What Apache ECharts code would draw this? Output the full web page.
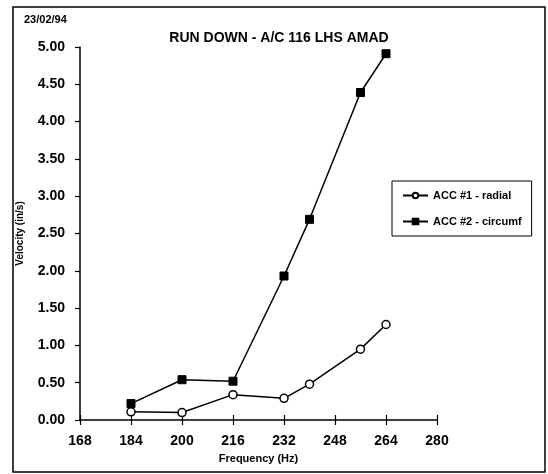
<!DOCTYPE html>
<html lang="en">
<head>
    <meta http-equiv="content-type" content="text/html; charset=utf-8" />
    <script type="text/javascript" src="https://cdn.jsdelivr.net/npm/echarts@6/dist/echarts.min.js"></script>
    <title>RUN DOWN - A/C 116 LHS AMAD</title>
    <style>
        html, body { margin: 0; padding: 0; background: #fff; }
        #chart { width: 548px; height: 474px; }
    </style>
</head>
<body>
<div id="chart"></div>
<script type="text/javascript">
    // 数据
    var freq = [184, 200, 216, 232, 240, 256, 264];
    var radial = [0.11, 0.10, 0.34, 0.29, 0.48, 0.95, 1.28];
    var circumf = [0.22, 0.54, 0.52, 1.93, 2.69, 4.39, 4.91];
    var seriesNames = ['ACC #1 - radial', 'ACC #2 - circumf'];

    function pairs(xs, ys) {
        var out = [];
        for (var i = 0; i < xs.length; i++) {
            out.push([xs[i], ys[i]]);
        }
        return out;
    }

    var font = '"Liberation Sans", Arial, Helvetica, sans-serif';
    var chart = echarts.init(document.getElementById('chart'));
    chart.setOption({
        animation: false,
        backgroundColor: '#fff',
        textStyle: { fontFamily: font, color: '#000' },
        title: {
            text: 'RUN DOWN - A/C 116 LHS AMAD',
            left: 274, top: 26, textAlign: 'center',
            textStyle: { fontFamily: font, fontSize: 14, fontWeight: 'bold', color: '#000' }
        },
        graphic: [
            { type: 'rect', shape: { x: 13, y: 7, width: 532, height: 465 },
              style: { fill: 'none', stroke: '#000', lineWidth: 1.5 } },
            { type: 'text', left: 24, top: 14,
              style: { text: '23/02/94', fill: '#000', font: 'bold 11px ' + font } }
        ],
        legend: {
            left: 392, top: 181,
            orient: 'vertical',
            backgroundColor: '#fff',
            borderColor: '#000', borderWidth: 1,
            padding: [9, 10, 9, 10],
            itemWidth: 25, itemHeight: 7, itemGap: 15,
            textStyle: { fontFamily: font, fontSize: 11, fontWeight: 'bold', color: '#000' },
            data: seriesNames
        },
        grid: { left: 80, right: 111, top: 47, bottom: 54 },
        xAxis: [{
            type: 'value', min: 168, max: 280, interval: 16,
            name: 'Frequency (Hz)', nameLocation: 'middle', nameGap: 33,
            nameTextStyle: { fontFamily: font, fontSize: 11, fontWeight: 'bold', color: '#000' },
            axisLine: { lineStyle: { color: '#000', width: 1.5 } },
            axisTick: { length: 5, lineStyle: { color: '#000', width: 1.2 } },
            axisLabel: { margin: 14, fontFamily: font, fontSize: 14, fontWeight: 'bold', color: '#000' },
            splitLine: { show: false }
        }, {
            type: 'value', min: 168, max: 280, interval: 16, position: 'bottom',
            axisLine: { show: false },
            axisTick: { inside: true, length: 5, lineStyle: { color: '#000', width: 1.2 } },
            axisLabel: { show: false },
            splitLine: { show: false }
        }],
        yAxis: {
            type: 'value', min: 0, max: 5, interval: 0.5,
            name: 'Velocity (in/s)', nameLocation: 'middle', nameGap: 55, nameRotate: 90,
            nameTextStyle: { fontFamily: font, fontSize: 10, fontWeight: 'bold', color: '#000' },
            axisLine: { show: true, lineStyle: { color: '#000', width: 1.5 } },
            axisTick: { show: true, length: 5, lineStyle: { color: '#000', width: 1.2 } },
            axisLabel: {
                margin: 15, fontFamily: font, fontSize: 14, fontWeight: 'bold', color: '#000',
                formatter: function (v) { return v.toFixed(2); }
            },
            splitLine: { show: false }
        },
        series: [{
            name: seriesNames[0], type: 'line',
            data: pairs(freq, radial),
            symbol: 'circle', symbolSize: 8,
            lineStyle: { color: '#000', width: 1.5 },
            itemStyle: { color: '#fff', borderColor: '#000', borderWidth: 1.5 }
        }, {
            name: seriesNames[1], type: 'line',
            data: pairs(freq, circumf),
            symbol: 'rect', symbolSize: 8,
            lineStyle: { color: '#000', width: 1.5 },
            itemStyle: { color: '#000', borderColor: '#000', borderWidth: 1 }
        }]
    });
</script>
</body>
</html>
